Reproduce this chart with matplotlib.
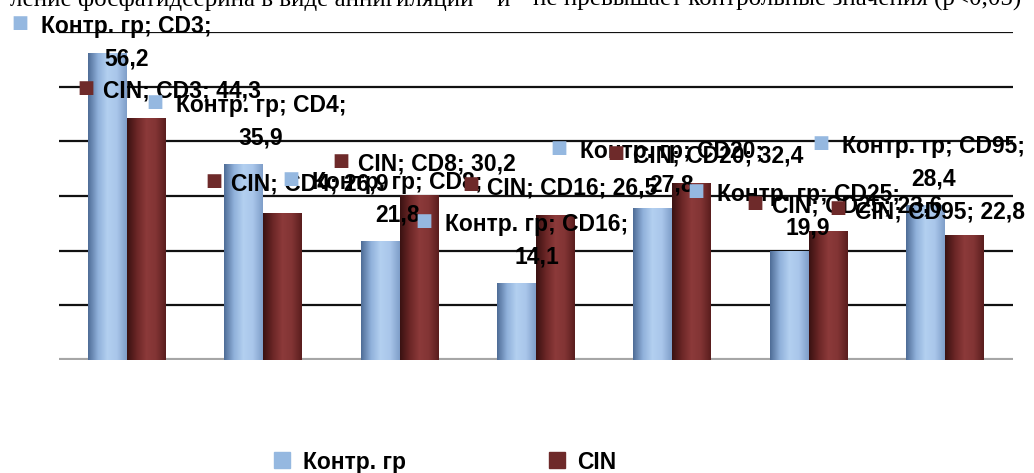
import numpy as np
import matplotlib.pyplot as plt
from matplotlib.colors import LinearSegmentedColormap
from matplotlib.lines import Line2D

# data
cats = ['CD3', 'CD4', 'CD8', 'CD16', 'CD20', 'CD25', 'CD95']
ctrl = [56.2, 35.9, 21.8, 14.1, 27.8, 19.9, 28.4]
cin = [44.3, 26.9, 30.2, 26.5, 32.4, 23.6, 22.8]
ser_names = ['Контр. гр', 'CIN']

# label offsets in pixels (x shift of label centre, baseline of last line above bar top)
ctrl_dx = [19, 17, 17, 20, 19, 19, 8]
ctrl_dy = [-13, 19, 19, 19, 17, 17, 19]
cin_dx = [35, 27, 18, 17, 26, 29, -24]
cin_dy = [20, 22, 24, 21, 20, 18, 17]

c_ctrl = '#95b8e0'
c_cin = '#6e2a2a'
cm_ctrl = LinearSegmentedColormap.from_list('c', ['#4f6d97', '#8fb0da', '#b3d0f0', '#a9c6ea', '#7f9fc9'])
cm_cin = LinearSegmentedColormap.from_list('r', ['#3a1212', '#6b2626', '#8c3a3a', '#823434', '#5a1e1e'])

fig = plt.figure(figsize=(10.34, 4.73), dpi=100)
ax = fig.add_axes([59/1034, 1-360/473, 954/1034, 328/473])
for s in ax.spines.values():
    s.set_visible(False)
ax.set_xticks([])
ax.set_yticks([])
for g in range(10, 61, 10):
    ax.axhline(g, color='#111111', lw=1.6, zorder=0)
ax.axhline(0, color='#a6a6a6', lw=3, zorder=0)

bw = 0.286
x = np.arange(len(cats))
grad = np.linspace(0, 1, 64).reshape(1, -1)

def gbar(xs, vals, cmap, col):
    bars = ax.bar(xs, vals, bw, align='edge', color=col, zorder=2)
    for b in bars:
        im = ax.imshow(grad, cmap=cmap, aspect='auto', zorder=2.1,
                       extent=[b.get_x(), b.get_x()+b.get_width(), 0, b.get_height()])
        im.set_clip_path(b)
    return bars

gbar(x - bw, ctrl, cm_ctrl, c_ctrl)
gbar(x, cin, cm_cin, c_cin)
ax.set_xlim(-0.5, len(cats)-0.5)
ax.set_ylim(0, 60)

fnt = dict(family='Liberation Sans', size=16.5, weight='bold', color='black')
mk = dict(family='DejaVu Sans', size=13)

for i in range(len(cats)):
    t = ax.annotate(f'{ser_names[0]}; {cats[i]};\n{str(ctrl[i]).replace(".", ",")}',
                    xy=(i, ctrl[i]), xytext=(ctrl_dx[i] - 19.5, ctrl_dy[i]),
                    textcoords='offset pixels', ha='center', va='baseline',
                    multialignment='center', linespacing=1.55, zorder=5,
                    annotation_clip=False, **fnt)
    ax.annotate('■', xy=(0, 1), xycoords=t, xytext=(-21, -8), textcoords='offset pixels',
                ha='center', va='center', color=c_ctrl, zorder=5, **mk)
    t2 = ax.annotate(f'{ser_names[1]}; {cats[i]}; {str(cin[i]).replace(".", ",")}',
                     xy=(i, cin[i]), xytext=(cin_dx[i] + 19.5, cin_dy[i]),
                     textcoords='offset pixels', ha='center', va='baseline', zorder=5,
                     annotation_clip=False, **fnt)
    ax.annotate('■', xy=(0, 1), xycoords=t2, xytext=(-17, -8), textcoords='offset pixels',
                ha='center', va='center', color=c_cin, zorder=5, **mk)

handles = [Line2D([], [], ls='', marker='s', ms=11, color=c) for c in (c_ctrl, c_cin)]
fig.legend(handles, ser_names, loc='center', bbox_to_anchor=(446/1034, 1-462/473),
           ncol=2, frameon=False, handlelength=0.6, handletextpad=0.6,
           columnspacing=6.3, prop=dict(family='Liberation Sans', size=16.5, weight='bold'))

# cut-off line of the document text above the chart
serif = dict(family='Liberation Serif', size=18, va='baseline')
fig.text(473/1034, 1-6/473, 'ление фосфатидсерина в виде аннигиляции', ha='right', **serif)
fig.text(503/1034, 1-6/473, 'и', ha='center', **serif)
fig.text(533/1034, 1-6/473, 'не превышает контрольные значения (р<0,05)', ha='left', **serif)

fig.savefig('out.png', dpi=100)
